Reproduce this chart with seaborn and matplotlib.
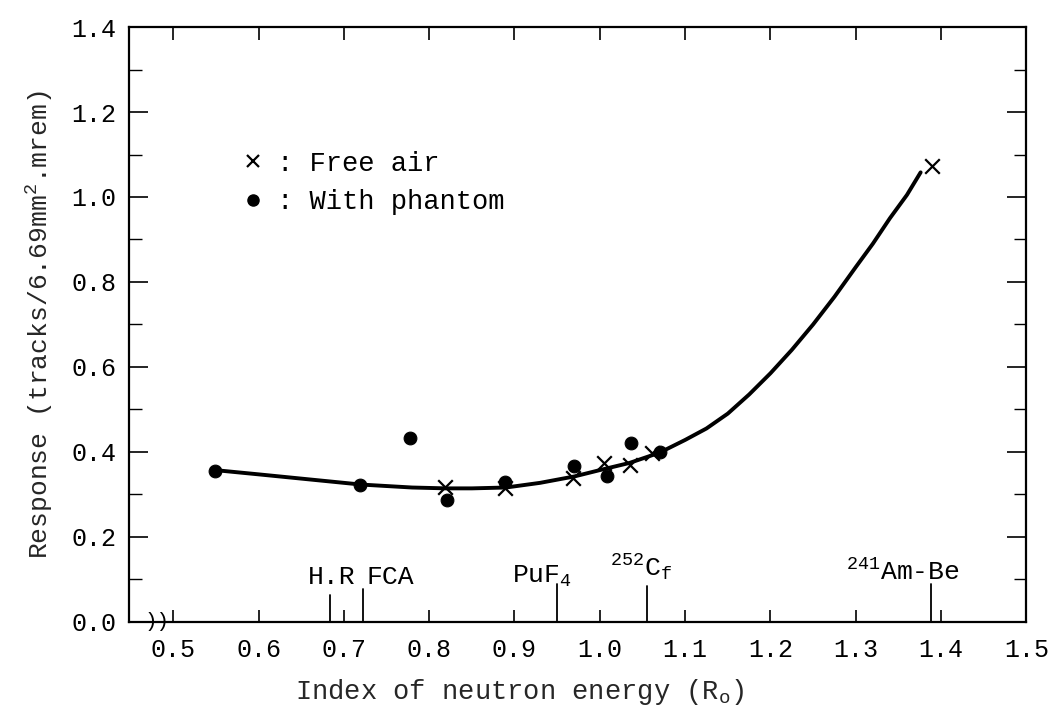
import matplotlib
matplotlib.use("Agg")
import matplotlib.pyplot as plt
import seaborn as sns
import pandas as pd
from matplotlib.lines import Line2D
from matplotlib.ticker import MultipleLocator, FormatStrFormatter

# ---------------- data ----------------
free_air_x = [0.819, 0.889, 0.969, 1.005, 1.035, 1.061, 1.389]
free_air_y = [0.317, 0.315, 0.338, 0.373, 0.368, 0.397, 1.074]

phantom_x = [0.549, 0.7195, 0.778, 0.821, 0.889, 0.970, 1.008, 1.037, 1.070]
phantom_y = [0.356, 0.323, 0.432, 0.287, 0.330, 0.367, 0.344, 0.420, 0.399]

curve_x = [0.549, 0.60, 0.65, 0.72, 0.78, 0.82, 0.85, 0.89, 0.93, 0.97, 1.00,
           1.035, 1.07, 1.10, 1.125, 1.15, 1.175, 1.20, 1.225, 1.25, 1.275,
           1.30, 1.32, 1.34, 1.36, 1.376]
curve_y = [0.357, 0.347, 0.337, 0.323, 0.316, 0.314, 0.314, 0.316, 0.327, 0.342,
           0.357, 0.374, 0.398, 0.428, 0.455, 0.49, 0.535, 0.585, 0.64, 0.70,
           0.765, 0.835, 0.89, 0.95, 1.005, 1.058]

source_names = ["H.R", "FCA", "PuF$_4$", "$^{252}$C$_f$", "$^{241}$Am-Be"]
source_x = [0.684, 0.723, 0.95, 1.055, 1.388]

x_ticks = [0.5, 0.6, 0.7, 0.8, 0.9, 1.0, 1.1, 1.2, 1.3, 1.4, 1.5]
y_ticks = [0.0, 0.2, 0.4, 0.6, 0.8, 1.0, 1.2, 1.4]

# ---------------- style ----------------
sns.set_style("ticks")
FONT = "Liberation Mono"
plt.rcParams["font.family"] = [FONT, "DejaVu Sans Mono"]
plt.rcParams["mathtext.fontset"] = "custom"
plt.rcParams["mathtext.rm"] = FONT
plt.rcParams["mathtext.it"] = FONT
plt.rcParams["mathtext.bf"] = FONT
plt.rcParams["text.color"] = "black"

fig = plt.figure(figsize=(10.56, 7.13), dpi=100)
ax = fig.add_axes([0.122, 0.128, 0.850, 0.834])

curve_df = pd.DataFrame({"x": curve_x, "y": curve_y})
free_df = pd.DataFrame({"x": free_air_x, "y": free_air_y})
ph_df = pd.DataFrame({"x": phantom_x, "y": phantom_y})

sns.lineplot(data=curve_df, x="x", y="y", sort=False, color="black",
             linewidth=2.8, ax=ax, zorder=2)
sns.scatterplot(data=free_df, x="x", y="y", marker="x", color="black",
                s=110, linewidth=1.6, ax=ax, zorder=3)
sns.scatterplot(data=ph_df, x="x", y="y", marker="o", color="black",
                s=85, edgecolor="black", ax=ax, zorder=3)

# source markers on the energy axis
tick_heights = [0.064, 0.078, 0.09, 0.085, 0.09]
for sx, h in zip(source_x, tick_heights):
    ax.plot([sx, sx], [0, h], color="black", linewidth=1.3, zorder=2)

label_specs = [  # (x, y, ha)
    (0.686, 0.090, "center"),
    (0.727, 0.090, "left"),
    (0.967, 0.092, "right"),
    (1.048, 0.106, "center"),
    (1.422, 0.099, "right"),
]
for name, (lx, ly, ha) in zip(source_names, label_specs):
    ax.text(lx, ly, name, ha=ha, va="baseline", fontsize=19)

# axes limits / ticks
ax.set_xlim(0.448, 1.5)
ax.set_ylim(0.0, 1.4)
ax.set_xticks(x_ticks)
ax.set_yticks(y_ticks)
ax.xaxis.set_major_formatter(FormatStrFormatter("%.1f"))
ax.yaxis.set_major_formatter(FormatStrFormatter("%.1f"))
ax.yaxis.set_minor_locator(MultipleLocator(0.1))
ax.tick_params(axis="both", which="both", direction="in", top=True, right=True,
               colors="black", labelsize=18)
ax.tick_params(axis="x", which="major", length=9, width=1.2, pad=12)
ax.tick_params(axis="y", which="major", length=14, width=1.2, pad=9)
ax.tick_params(axis="y", which="minor", length=9, width=1.0)
for sp in ax.spines.values():
    sp.set_visible(True)
    sp.set_color("black")
    sp.set_linewidth(1.6)

# axis break mark
ax.text(0.481, 0.0, "))", ha="center", va="center", fontsize=15,
        transform=ax.get_xaxis_transform(), clip_on=False)

ax.set_xlabel("Index of neutron energy (R$_\\mathrm{o}$)", fontsize=19.5)
ax.xaxis.set_label_coords(0.436, -0.093)
ax.set_ylabel("Response (tracks/6.69mm$^2$.mrem)", fontsize=19, labelpad=12)

handles = [
    Line2D([], [], linestyle="none", marker="x", color="black", markersize=9,
           markeredgewidth=1.6),
    Line2D([], [], linestyle="none", marker="o", color="black", markersize=8),
]
ax.legend(handles, [": Free air", ": With phantom"], loc="upper left",
          bbox_to_anchor=(0.111, 0.81), frameon=False, fontsize=19.5,
          handlelength=1.0, handletextpad=0.4, labelspacing=0.45,
          borderaxespad=0)

fig.savefig("out.png", dpi=100)
